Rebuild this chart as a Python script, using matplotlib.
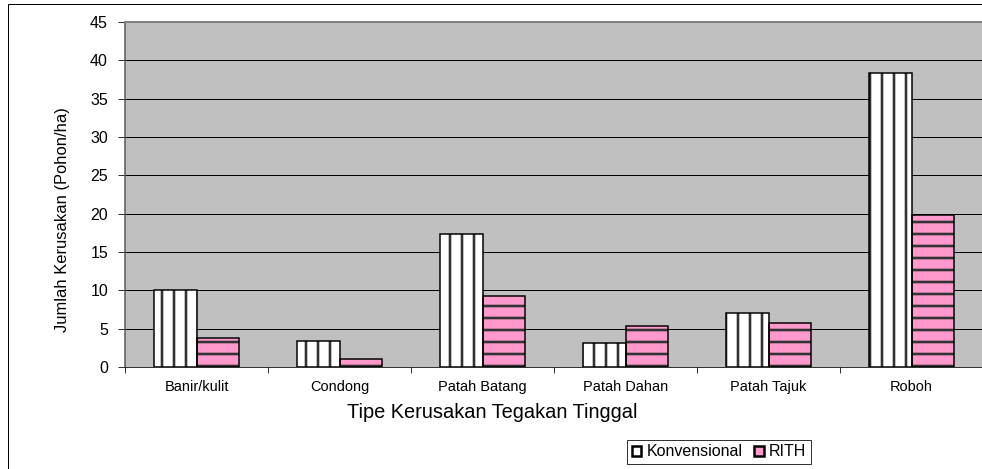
import numpy as np
import matplotlib
matplotlib.use("Agg")
import matplotlib.pyplot as plt
from matplotlib.patches import Patch, Rectangle

categories = ["Banir/kulit", "Condong", "Patah Batang", "Patah Dahan", "Patah Tajuk", "Roboh"]
konvensional = [10.0, 3.4, 17.4, 3.1, 7.1, 38.3]
rith = [3.8, 1.1, 9.3, 5.4, 5.8, 19.8]
y_ticks = [0, 5, 10, 15, 20, 25, 30, 35, 40, 45]

plt.rcParams["font.family"] = ["Liberation Sans", "DejaVu Sans"]
plt.rcParams["hatch.linewidth"] = 2.6

W, H = 982, 469
fig = plt.figure(figsize=(W / 72, H / 72), dpi=72)

# outer chart border
fig.patches.append(Rectangle((8 / W, -0.1), 1.2, 1 - 4 / H + 0.1, transform=fig.transFigure,
                             fill=False, edgecolor="black", linewidth=1))

ax = fig.add_axes([125 / W, 1 - 367 / H, (983 - 125) / W, (367 - 22) / H])
ax.set_facecolor("#C0C0C0")

x = np.arange(len(categories))
w = 0.295
# hatched fill first, then the black outline on top
ax.bar(x - w / 2, konvensional, w, color="white", edgecolor="#333333", hatch="|", linewidth=0, zorder=3)
ax.bar(x - w / 2, konvensional, w, fill=False, edgecolor="black", linewidth=1.5, zorder=4)
ax.bar(x + w / 2, rith, w, color="#FF99CC", edgecolor="#333333", hatch="-", linewidth=0, zorder=3)
ax.bar(x + w / 2, rith, w, fill=False, edgecolor="black", linewidth=1.5, zorder=4)

ax.set_ylim(0, 45)
ax.set_xlim(-0.5, len(categories) - 0.5)
ax.set_yticks(y_ticks)
ax.yaxis.grid(True, color="black", linewidth=1, zorder=1)
ax.set_axisbelow(True)
ax.tick_params(axis="y", labelsize=16, length=7, direction="out", pad=10)

ax.set_xticks(np.arange(-0.5, len(categories)), labels=[])
ax.set_xticks(x, labels=categories, minor=True)
ax.tick_params(axis="x", which="major", length=6, direction="out")
ax.tick_params(axis="x", which="minor", length=0, labelsize=14.5, pad=13)

for side in ["top", "right"]:
    ax.spines[side].set_color("#808080")
    ax.spines[side].set_linewidth(2)
ax.spines["left"].set_color("#555555")
ax.spines["left"].set_linewidth(1.5)
ax.spines["bottom"].set_color("black")

fig.text(492 / W, 1 - 412 / H, "Tipe Kerusakan Tegakan Tinggal", ha="center", va="center", fontsize=20)
fig.text(63 / W, 1 - 220 / H, "Jumlah Kerusakan (Pohon/ha)", ha="center", va="center",
         rotation=90, fontsize=16.5)

handles = [Patch(facecolor="white", edgecolor="black", linewidth=2.5, label="Konvensional"),
           Patch(facecolor="#FF99CC", edgecolor="black", linewidth=2.5, label="RITH")]
leg = fig.legend(handles=handles, loc="center", bbox_to_anchor=(719 / W, 1 - 452 / H), ncol=2,
                 fontsize=16, frameon=True, fancybox=False, edgecolor="black", handlelength=0.6,
                 handleheight=0.6, handletextpad=0.35, columnspacing=0.7, borderpad=0.3,
                 borderaxespad=0)
leg.get_frame().set_linewidth(1)

fig.savefig("out.png", dpi=72)
